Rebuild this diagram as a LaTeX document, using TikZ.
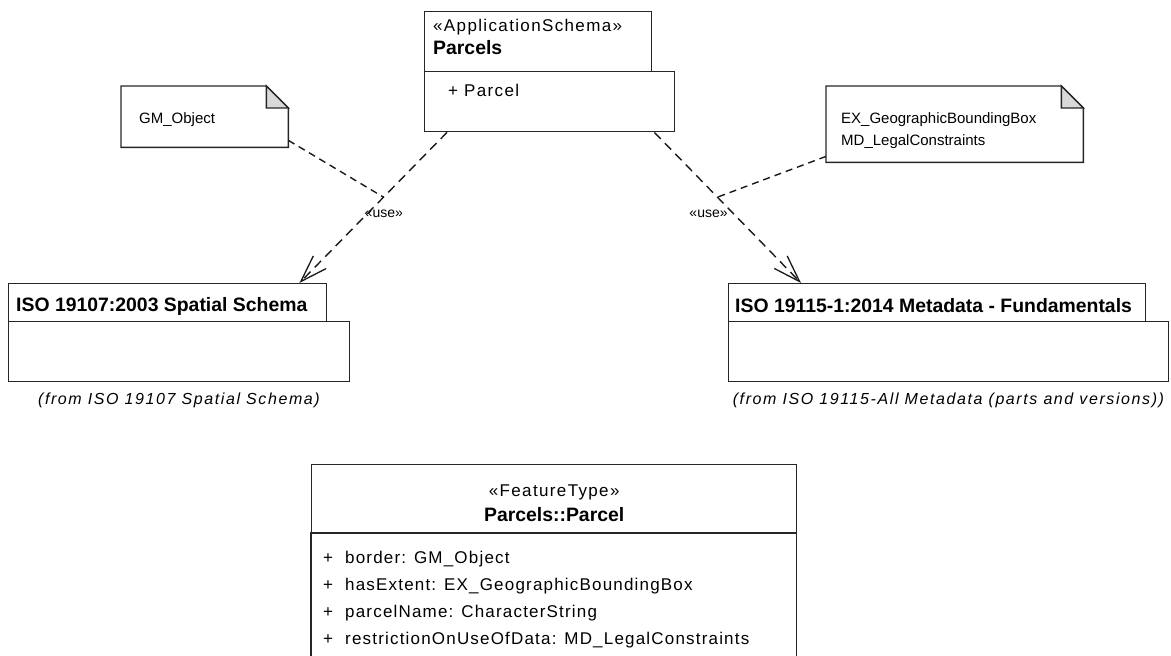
\documentclass[tikz,border=0pt]{standalone}
\usepackage{fontspec}
\setmainfont{Liberation Sans}
\usetikzlibrary{positioning,arrows.meta,calc}
\tikzset{
umlbox/.style={draw=black!85, line width=1.4pt, rectangle, anchor=north west, inner sep=0pt},
blank/.style={rectangle, anchor=north west, inner sep=0pt},
outline/.style={draw=black!85, line width=1.4pt},
usedep/.style={draw=black!90, line width=1.4pt, dash pattern=on 9pt off 6pt,
  -{Straight Barb[length=27pt,width=18pt,line width=1.3pt]}},
noteline/.style={draw=black!90, line width=1.4pt, dash pattern=on 7pt off 5pt},
title/.style={font=\fontsize{19.4}{22}\selectfont\bfseries, anchor=west, inner sep=0pt},
stereo/.style={font=\fontsize{17}{20}\selectfont\addfontfeatures{LetterSpace=8}, inner sep=0pt},
notetext/.style={font=\fontsize{15}{18}\selectfont, anchor=west, inner sep=0pt},
uselabel/.style={font=\fontsize{14}{16}\selectfont, inner sep=0pt},
fromlabel/.style={font=\fontsize{16}{19}\selectfont\itshape\addfontfeatures{LetterSpace=10}, inner sep=0pt},
attr/.style={font=\fontsize{17}{20}\selectfont\addfontfeatures{LetterSpace=7}, anchor=west, inner sep=0pt},
}
\begin{document}
\begin{tikzpicture}[x=1pt,y=-1pt]
\useasboundingbox (0,0) rectangle (1171,656);

% application schema package
\node[umlbox, minimum width=227pt, minimum height=60pt] (ptab) at (424,10.5) {};
\node[umlbox, minimum width=250pt, minimum height=60.5pt] (pbody) at (424,70.5) {};
\node[stereo, anchor=west] (pster) at (433,27) {«ApplicationSchema»};
\node[title] (pname) at (433,48) {Parcels};
\node[stereo, anchor=west] (pitem) at (448,90) {+ Parcel};

% imported packages
\node[umlbox, minimum width=318.5pt, minimum height=38pt] (ltab) at (7.5,283) {};
\node[umlbox, minimum width=341.5pt, minimum height=60pt] (lbody) at (7.5,321) {};
\node[title] (lname) at (16,306) {ISO 19107:2003 Spatial Schema};
\node[fromlabel, below=10pt of lbody.south] (lfrom) {(from ISO 19107 Spatial Schema)};

\node[umlbox, minimum width=417.5pt, minimum height=38pt] (rtab) at (727.5,283) {};
\node[umlbox, minimum width=440.5pt, minimum height=60pt] (rbody) at (727.5,321) {};
\node[title] (rname) at (735,306) {ISO 19115-1:2014 Metadata - Fundamentals};
\node[fromlabel, below=10pt of rbody.south] (rfrom) {(from ISO 19115-All Metadata (parts and versions))};

% notes
\node[blank, minimum width=167pt, minimum height=61pt] (gmnote) at (121,86) {};
\draw[outline] (gmnote.north west) -- ([xshift=-22pt]gmnote.north east) -- ([yshift=-22pt]gmnote.north east)
  -- (gmnote.south east) -- (gmnote.south west) -- cycle;
\filldraw[outline, fill=black!15] ([xshift=-22pt]gmnote.north east) -- ([xshift=-22pt,yshift=-22pt]gmnote.north east)
  -- ([yshift=-22pt]gmnote.north east) -- cycle;
\node[notetext] (gmtext) at (139,120) {GM\_Object};

\node[blank, minimum width=257pt, minimum height=76pt] (exnote) at (826,86) {};
\draw[outline] (exnote.north west) -- ([xshift=-22pt]exnote.north east) -- ([yshift=-22pt]exnote.north east)
  -- (exnote.south east) -- (exnote.south west) -- cycle;
\filldraw[outline, fill=black!15] ([xshift=-22pt]exnote.north east) -- ([xshift=-22pt,yshift=-22pt]exnote.north east)
  -- ([yshift=-22pt]exnote.north east) -- cycle;
\node[notetext] (extext) at (841,120) {EX\_GeographicBoundingBox};
\node[notetext] (mdtext) at (841,142) {MD\_LegalConstraints};

% dependencies
\draw[usedep] ([xshift=23pt]pbody.south west) -- coordinate[pos=0.43] (jleft)
  node[uselabel, pos=0.54, xshift=16.5pt] (useleft) {«use»} ([xshift=-28pt]ltab.north east);
\draw[usedep] ([xshift=-21pt]pbody.south east) -- coordinate[pos=0.43] (jright)
  node[uselabel, pos=0.54, xshift=-25pt] (useright) {«use»} ([xshift=73.5pt]rtab.north west);
\draw[noteline] ([yshift=7pt]gmnote.south east) -- (jleft);
\draw[noteline] ([yshift=6pt]exnote.south west) -- (jright);

% feature type
\node[umlbox, minimum width=485pt, minimum height=69pt] (fhead) at (311,464) {};
\node[blank, minimum width=485pt, minimum height=123pt] (fbody) at (311,533) {};
\draw[outline] (fbody.south west) -- (fbody.north west) -- (fbody.north east) -- (fbody.south east);
\node[stereo] (fster) at ($(fhead.center)+(0,6.5pt)$) {«FeatureType»};
\node[title, anchor=center] (fname) at ($(fhead.center)+(0,-15.5pt)$) {Parcels::Parcel};
\foreach \a [count=\i] in {border: GM\_Object, hasExtent: EX\_GeographicBoundingBox,
  parcelName: CharacterString, restrictionOnUseOfData: MD\_LegalConstraints} {
  \node[attr] (plus\i) at (323, 532+27*\i) {+};
  \node[attr] (attr\i) at (345, 532+27*\i) {\a};
}
\end{tikzpicture}
\end{document}
